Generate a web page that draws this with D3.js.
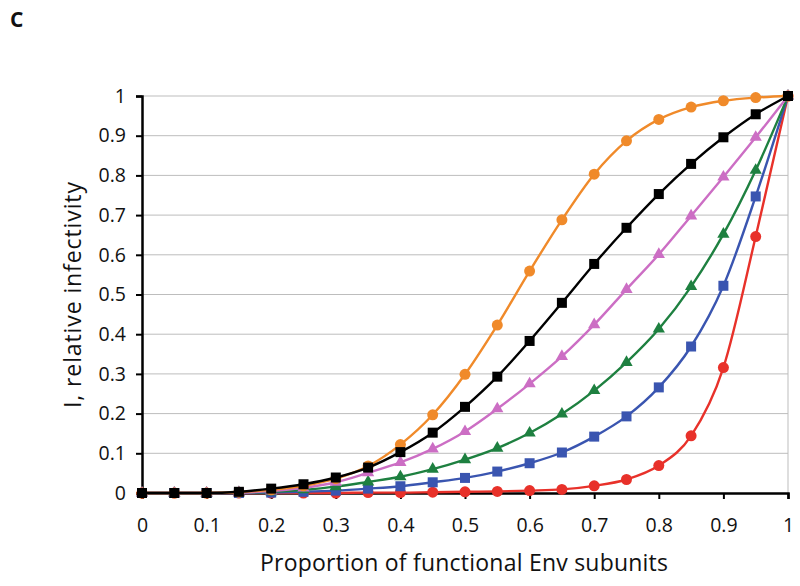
<!DOCTYPE html>
<html>
<head>
<meta charset="utf-8">
<script src="https://cdn.jsdelivr.net/npm/d3@7"></script>
<style>
  body { margin: 0; background: #fff; }
  text { font-family: "Open Sans", "DejaVu Sans", sans-serif; fill: #111; }
</style>
</head>
<body>
<svg id="chart" width="800" height="586"></svg>
<script>
const xValues = [0,0.05,0.1,0.15,0.2,0.25,0.3,0.35,0.4,0.45,0.5,0.55,0.6,0.65,0.7,0.75,0.8,0.85,0.9,0.95,1];
const orangeSeries = [0,0,0,0.002,0.008,0.018,0.036,0.068,0.122,0.197,0.299,0.423,0.559,0.688,0.803,0.887,0.941,0.972,0.988,0.996,1];
const blackSeries  = [0,0,0,0.003,0.011,0.022,0.039,0.064,0.103,0.152,0.217,0.293,0.383,0.479,0.577,0.668,0.753,0.829,0.896,0.954,1];
const pinkSeries   = [0,0,0,0.001,0.005,0.013,0.027,0.051,0.077,0.111,0.155,0.212,0.275,0.344,0.424,0.513,0.601,0.698,0.796,0.896,1];
const greenSeries  = [0,0,0,0.001,0.003,0.008,0.016,0.028,0.041,0.06,0.084,0.113,0.151,0.199,0.258,0.329,0.413,0.52,0.652,0.813,1];
const blueSeries   = [0,0,0,0,0.001,0.003,0.006,0.011,0.017,0.027,0.038,0.054,0.075,0.102,0.142,0.193,0.266,0.369,0.522,0.747,1];
const redSeries    = [0,0,0,0,0,0,0,0.001,0.001,0.002,0.003,0.004,0.006,0.009,0.018,0.034,0.069,0.144,0.316,0.646,1];
const xTicks = [0,0.1,0.2,0.3,0.4,0.5,0.6,0.7,0.8,0.9,1];
const yTicks = [0,0.1,0.2,0.3,0.4,0.5,0.6,0.7,0.8,0.9,1];

const series = [
  {name: "red", values: redSeries, color: "#e8312a", marker: "circle"},
  {name: "blue", values: blueSeries, color: "#3a55b0", marker: "square"},
  {name: "green", values: greenSeries, color: "#1e8040", marker: "triangle"},
  {name: "pink", values: pinkSeries, color: "#cc6ec4", marker: "triangle"},
  {name: "orange", values: orangeSeries, color: "#f08a2a", marker: "circle"},
  {name: "black", values: blackSeries, color: "#000000", marker: "square"}
];

const svg = d3.select("#chart");
const mL = 142, mR = 788, mT = 96, mB = 493;
const x = d3.scaleLinear().domain([0, 1]).range([mL, mR]);
const y = d3.scaleLinear().domain([0, 1]).range([mB, mT]);

// gridlines
svg.append("g").selectAll("line").data(yTicks.filter(d => d > 0)).join("line")
  .attr("x1", mL).attr("x2", mR)
  .attr("y1", d => y(d)).attr("y2", d => y(d))
  .attr("stroke", "#bdbdbd").attr("stroke-width", 1);
// right border
svg.append("line").attr("x1", mR).attr("x2", mR).attr("y1", mT).attr("y2", mB)
  .attr("stroke", "#bdbdbd").attr("stroke-width", 1);

// axes
const yAxis = svg.append("g").attr("transform", `translate(${mL},0)`)
  .call(d3.axisLeft(y).tickValues(yTicks).tickFormat(d3.format("")).tickSize(6).tickPadding(10));
const xAxis = svg.append("g").attr("transform", `translate(0,${mB})`)
  .call(d3.axisBottom(x).tickValues(xTicks).tickFormat(d3.format("")).tickSize(6).tickPadding(19));
[yAxis, xAxis].forEach(g => {
  g.select(".domain").attr("stroke", "#000").attr("stroke-width", 2.5);
  g.selectAll(".tick line").attr("stroke", "#000").attr("stroke-width", 2);
  g.selectAll(".tick text").attr("font-size", 19.5).attr("fill", "#111")
    .attr("font-family", '"Open Sans", "DejaVu Sans", sans-serif');
});

const line = d3.line().x((d, i) => x(xValues[i])).y(d => y(d)).curve(d3.curveMonotoneX);

series.forEach(s => {
  const g = svg.append("g");
  g.append("path").datum(s.values).attr("d", line)
    .attr("fill", "none").attr("stroke", s.color).attr("stroke-width", 2.4);
  const pts = g.selectAll(".m").data(s.values).join("g")
    .attr("transform", (d, i) => `translate(${x(xValues[i])},${y(d)})`);
  if (s.marker === "circle") {
    pts.append("circle").attr("r", 5.5).attr("fill", s.color);
  } else if (s.marker === "square") {
    pts.append("rect").attr("x", -5).attr("y", -5).attr("width", 10).attr("height", 10).attr("fill", s.color);
  } else {
    pts.append("path").attr("d", d3.symbol(d3.symbolTriangle, 65)()).attr("fill", s.color);
  }
});

// titles
svg.append("text").attr("x", 464).attr("y", 571).attr("text-anchor", "middle")
  .attr("font-size", 23).attr("textLength", 408).attr("lengthAdjust", "spacing")
  .text("Proportion of functional Env subunits");
svg.append("text").attr("transform", "translate(81,295) rotate(-90)").attr("text-anchor", "middle")
  .attr("font-size", 23).attr("textLength", 226).attr("lengthAdjust", "spacing")
  .text("I, relative infectivity");
svg.append("text").attr("x", 10).attr("y", 27).attr("font-size", 21).attr("font-weight", "bold").text("C");
</script>
</body>
</html>
